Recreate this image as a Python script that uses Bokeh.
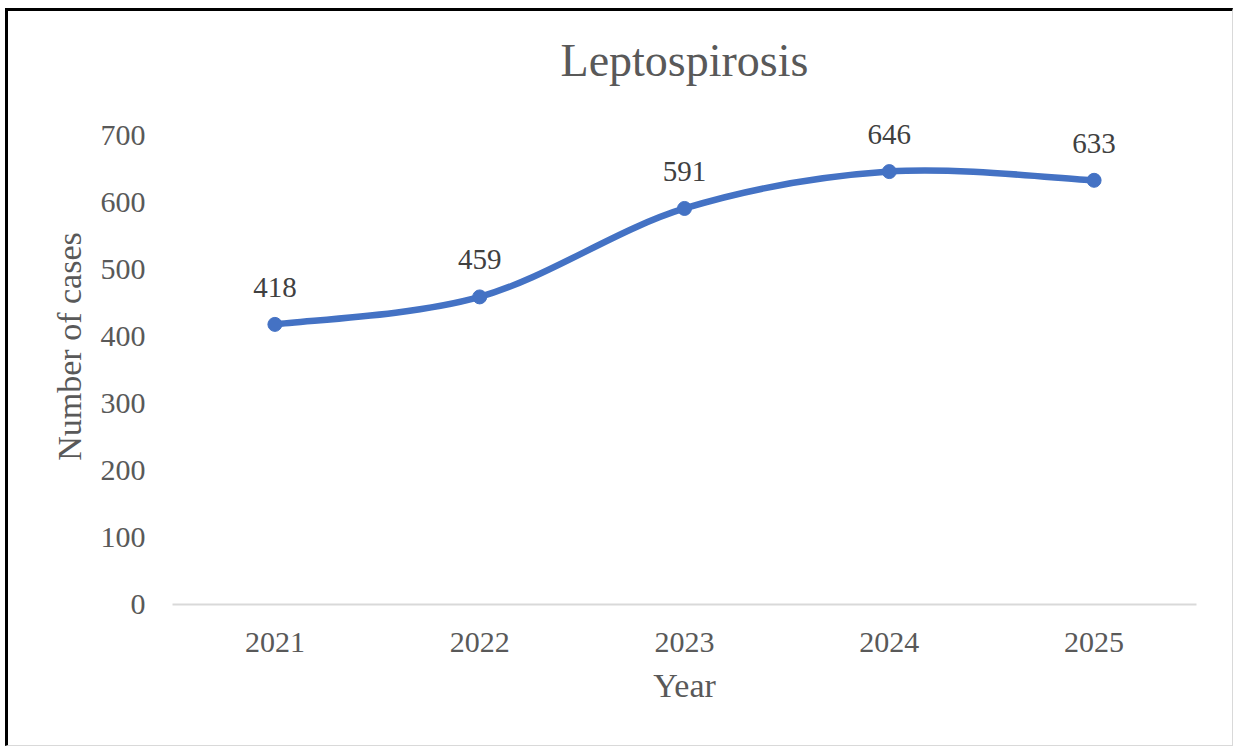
from bokeh.plotting import figure
from bokeh.models import ColumnDataSource, FixedTicker, Range1d, LabelSet
from bokeh.embed import file_html
from bokeh.resources import INLINE

years = [2021, 2022, 2023, 2024, 2025]
cases = [418, 459, 591, 646, 633]
y_ticks = [0, 100, 200, 300, 400, 500, 600, 700]

BLUE = "#4472C4"
SERIF = "Liberation Serif"
GREY = "#595959"

# y range extended above 700 (no axis line / grid) so data labels are not clipped
p = figure(width=1228, height=738, output_backend="svg", toolbar_location=None,
           x_range=Range1d(2020.5, 2025.5), y_range=Range1d(0, 770),
           min_border_left=164, min_border_right=40, min_border_top=77,
           min_border_bottom=145)
p.styles = {"border-top": "3px solid black", "border-left": "3px solid black",
            "border-right": "1px solid #d9d9d9", "border-bottom": "1px solid #d9d9d9",
            "margin-left": "5px", "margin-top": "8px"}

# title
p.title.text = "Leptospirosis"
p.title.text_font = SERIF
p.title.text_font_size = "46px"
p.title.text_font_style = "normal"
p.title.text_color = GREY
p.title.align = "center"
p.title.offset = 0
p.title.standoff = 6

p.outline_line_color = None
p.background_fill_color = "white"
p.border_fill_color = "white"
p.grid.grid_line_color = None

# x axis
p.xaxis.ticker = FixedTicker(ticks=years)
p.xaxis.axis_line_color = "#d9d9d9"
p.xaxis.axis_line_width = 2
p.xaxis.major_tick_line_color = None
p.xaxis.minor_tick_line_color = None
p.xaxis.major_label_text_font = SERIF
p.xaxis.major_label_text_font_size = "30px"
p.xaxis.major_label_text_color = GREY
p.xaxis.major_label_standoff = 22
p.xaxis.axis_label = "Year"
p.xaxis.axis_label_text_font = SERIF
p.xaxis.axis_label_text_font_size = "34px"
p.xaxis.axis_label_text_font_style = "normal"
p.xaxis.axis_label_text_color = GREY
p.xaxis.axis_label_standoff = 12

# y axis
p.yaxis.ticker = FixedTicker(ticks=y_ticks)
p.yaxis.axis_line_color = None
p.yaxis.major_tick_line_color = None
p.yaxis.minor_tick_line_color = None
p.yaxis.major_label_text_font = SERIF
p.yaxis.major_label_text_font_size = "30px"
p.yaxis.major_label_text_color = GREY
p.yaxis.major_label_standoff = 21
p.yaxis.axis_label = "Number of cases"
p.yaxis.axis_label_text_font = SERIF
p.yaxis.axis_label_text_font_size = "34px"
p.yaxis.axis_label_text_font_style = "normal"
p.yaxis.axis_label_text_color = GREY
p.yaxis.axis_label_standoff = 10

# smoothed line (Bezier segments with control points derived from neighbours)
n = len(years)
x0, y0, x1, y1, cx0, cy0, cx1, cy1 = [], [], [], [], [], [], [], []
for i in range(n - 1):
    pm = max(i - 1, 0)
    pn = min(i + 2, n - 1)
    x0.append(years[i]); y0.append(cases[i])
    x1.append(years[i + 1]); y1.append(cases[i + 1])
    cx0.append(years[i] + (years[i + 1] - years[pm]) / 6)
    cy0.append(cases[i] + (cases[i + 1] - cases[pm]) / 6)
    cx1.append(years[i + 1] - (years[pn] - years[i]) / 6)
    cy1.append(cases[i + 1] - (cases[pn] - cases[i]) / 6)
p.bezier(x0=x0, y0=y0, x1=x1, y1=y1, cx0=cx0, cy0=cy0, cx1=cx1, cy1=cy1,
         line_color=BLUE, line_width=6.5, line_cap="round")

src = ColumnDataSource(dict(x=years, y=cases, lab=[str(c) for c in cases]))
p.scatter("x", "y", source=src, size=14, fill_color=BLUE, line_color=BLUE)

labels = LabelSet(x="x", y="y", text="lab", source=src, text_align="center",
                  text_baseline="middle", y_offset=37, text_font=SERIF,
                  text_font_size="29px", text_color="#404040")
p.add_layout(labels)

open("out.html", "w").write(file_html(p, INLINE))
